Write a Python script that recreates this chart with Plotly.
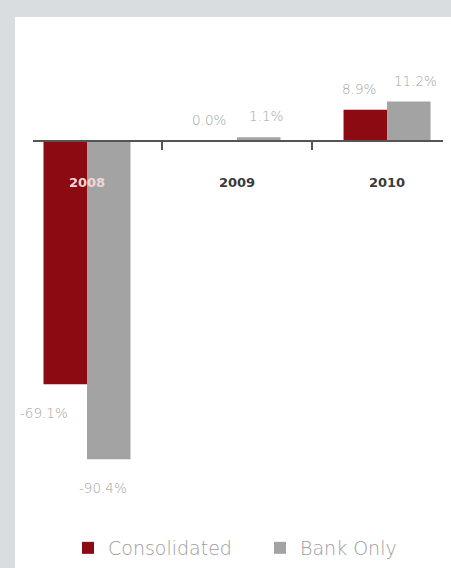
import plotly.graph_objects as go

years = ["2008", "2009", "2010"]
consolidated = [-69.1, 0.0, 8.9]
bank_only = [-90.4, 1.1, 11.2]
series_names = ["Consolidated", "Bank Only"]

RED = "#8c0a12"
GRAY = "#a3a3a3"
LABEL = "#a3a3a3"
FONT = "DejaVu Sans"
W, H = 451, 568

fig = go.Figure()
fig.add_trace(go.Bar(x=years, y=consolidated, name=series_names[0],
                     marker=dict(color=RED, line=dict(width=0))))
fig.add_trace(go.Bar(x=years, y=bank_only, name=series_names[1],
                     marker=dict(color=GRAY, line=dict(width=0))))

# label style per series: (group offset, xshift for positive, xshift for negative)
label_style = [(-0.145, -6, -21), (0.145, 7, -6)]
annotations = []
for vals, (off, dx_pos, dx_neg) in zip((consolidated, bank_only), label_style):
    for i, v in enumerate(vals):
        neg = v < 0
        annotations.append(dict(
            x=i + off, y=v, xref="x", yref="y", text=f"{v:.1f}%",
            showarrow=False, xshift=dx_neg if neg else dx_pos,
            yshift=-29 if neg else 21,
            font=dict(family=FONT, size=13.5, color=LABEL, weight=300),
        ))

T, B = 60, 500
zero_px = 141
scale = 3.52
ytop = (zero_px - T) / scale
ybot = -(B - zero_px) / scale
L, R = 33, 8
PW = W - L - R

ticktext = ['<span style="color:#f2d6d6">2008</span>', "2009", "2010"]

fig.update_layout(
    width=W, height=H,
    margin=dict(l=L, r=R, t=T, b=H - B, autoexpand=False),
    paper_bgcolor="#ffffff",
    plot_bgcolor="rgba(0,0,0,0)",
    barmode="group", bargap=0.42, bargroupgap=0,
    xaxis=dict(
        type="category", range=[-0.36, 2.373],
        anchor="free", position=(B - zero_px) / (B - T),
        showline=True, linecolor="#555555", linewidth=2,
        ticks="outside", tickson="boundaries", ticklen=8, tickwidth=2,
        tickcolor="#555555",
        tickvals=years, ticktext=ticktext,
        ticklabelstandoff=29,
        tickfont=dict(family=FONT, size=13, color="#3a3a3a", weight="bold"),
        showgrid=False, zeroline=False, fixedrange=True,
        automargin=False,
    ),
    yaxis=dict(range=[ybot, ytop], visible=False, showgrid=False,
               zeroline=False, fixedrange=True),
    showlegend=True,
    legend=dict(orientation="h", x=(68 - L) / PW, xanchor="left",
                y=-(548 - B) / (B - T), yanchor="middle",
                font=dict(family=FONT, size=19, color="#9c9c9c", weight=200),
                itemwidth=30, entrywidth=147, traceorder="normal"),
    annotations=annotations,
    shapes=[
        dict(type="rect", xref="paper", yref="paper", layer="below",
             x0=-0.2, x1=1.2, y0=(B - 17) / (B - T), y1=1.3,
             fillcolor="#d9dde0", line=dict(width=0)),
        dict(type="rect", xref="paper", yref="paper", layer="below",
             x0=-0.2, x1=(15 - L) / PW, y0=-0.3, y1=1.3,
             fillcolor="#d9dde0", line=dict(width=0)),
    ],
)

fig.write_html(
    "out.html",
    config={"displayModeBar": False},
    post_script="document.body.style.margin='0';document.body.style.padding='0';",
)
